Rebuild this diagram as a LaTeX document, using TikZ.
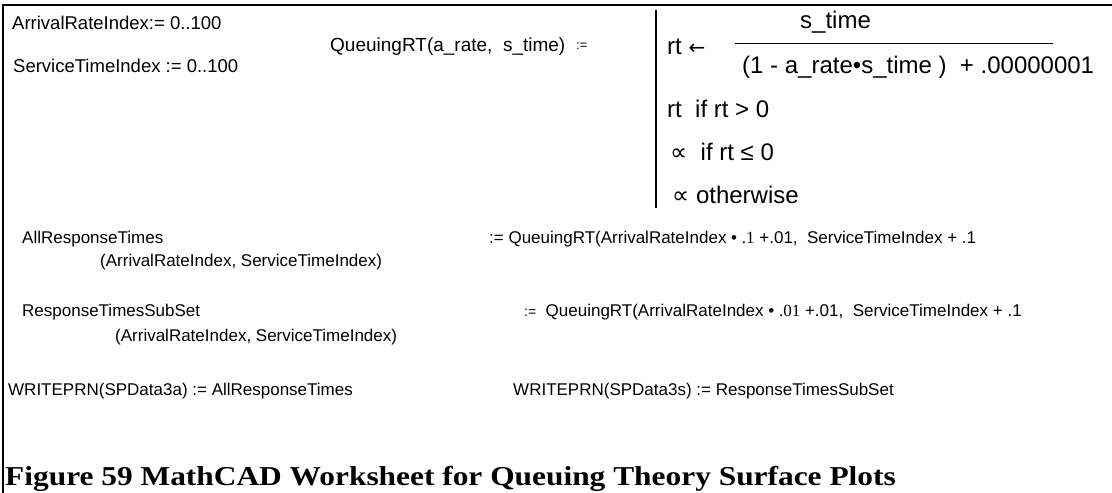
\documentclass[tikz,border=0pt]{standalone}
\usepackage{fontspec}
\setmainfont{Liberation Sans}
\newfontfamily\timesfont{Liberation Serif}
\newfontfamily\capfont{Liberation Serif}[FakeStretch=1.15]
\newfontfamily\symfont{DejaVu Sans}
\usetikzlibrary{positioning}

\newcommand{\smallfnt}{\fontsize{17}{20}\selectfont}
\newcommand{\rangefnt}{\fontsize{18.5}{22}\selectfont}
\newcommand{\deffnt}{\fontsize{19}{23}\selectfont}
\newcommand{\progfnt}{\fontsize{24}{28}\selectfont}
\newcommand{\capfnt}{\capfont\bfseries\fontsize{27.3}{32}\selectfont}
\newcommand{\propsym}{{\symfont ∝}}
\newcommand{\assignsym}{{\symfont\fontsize{20}{24}\selectfont ←}}

\begin{document}
\begin{tikzpicture}[x=1pt, y=-1pt,
    txt/.style={anchor=base west, inner sep=0pt, font=\smallfnt},
    rangetxt/.style={txt, font=\rangefnt},
    deftxt/.style={txt, font=\deffnt},
    progtxt/.style={txt, font=\progfnt}]

    \useasboundingbox (0,0) rectangle (1112,493);

    % frame
    \coordinate (tl) at (3,5);
    \coordinate (tr) at (1112,5);
    \coordinate (bl) at (3,493);
    \draw [line width=2.5pt] (tr) -- (tl) -- (bl);

    % ranges
    \node [rangetxt] (ari) at (12,29) {ArrivalRateIndex:= 0..100};
    \node [rangetxt] (sti) at (13,72) {ServiceTimeIndex := 0..100};

    % function definition
    \node [deftxt] (qrt) at (330,51) {QueuingRT(a\_rate,\ \ s\_time)};
    \node [txt, font=\fontsize{13}{15}\selectfont] (qdef) at (576,49) {:=};

    % program
    \coordinate (bartop) at (656,10);
    \coordinate (barbot) at (656,208);
    \draw [line width=2pt] (bartop) -- (barbot);

    \node [progtxt] (p1) at (667,54) {rt \assignsym};
    \node [progtxt] (num) at (800,28) {s\_time};
    \coordinate (fracl) at (735,43);
    \coordinate (fracr) at (1053,43);
    \draw [line width=1pt] (fracl) -- (fracr);
    \node [progtxt] (den) at (742,73) {(1 - a\_rate•s\_time )\ \ +\ .00000001};
    \node [progtxt] (p2) at (667,117) {rt\ \ if\ rt > 0};
    \node [progtxt] (p3) at (670,160) {\propsym\ \ if\ rt ≤ 0};
    \node [progtxt] (p4) at (672,203) {\propsym\ otherwise};

    % surfaces
    \node [txt] (all) at (22,243) {AllResponseTimes};
    \node [txt] (alli) at (100,266) {(ArrivalRateIndex, ServiceTimeIndex)};
    \node [txt] (alldef) at (489,243) {:=\ QueuingRT(ArrivalRateIndex • {\timesfont .1} +.01,\ \ ServiceTimeIndex + .1};

    \node [txt] (sub) at (22,316) {ResponseTimesSubSet};
    \node [txt] (subi) at (115,341) {(ArrivalRateIndex, ServiceTimeIndex)};
    \node [txt] (subdef) at (524,316) {{\fontsize{14}{16}\selectfont :=}\ \ QueuingRT(ArrivalRateIndex • {\timesfont .01} +.01,\ \ ServiceTimeIndex + .1};

    % output files
    \node [txt] (wa) at (8,395) {WRITEPRN(SPData3a) := AllResponseTimes};
    \node [txt] (ws) at (513,395) {WRITEPRN(SPData3s) := ResponseTimesSubSet};

    % caption
    \node [txt, font=\capfnt] (cap) at (5,485) {Figure 59 MathCAD Worksheet for Queuing Theory Surface Plots};

\end{tikzpicture}
\end{document}
